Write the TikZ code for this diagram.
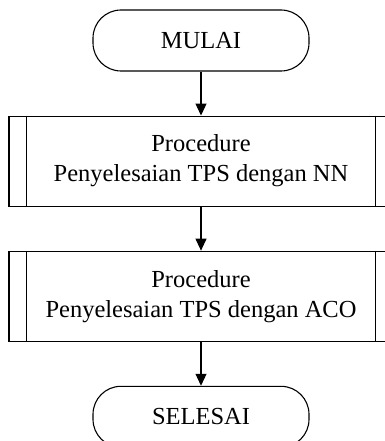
\documentclass[tikz,border=0pt]{standalone}
\usepackage{fontspec}
\setmainfont{Liberation Serif}
\usepackage{tikz}
\usetikzlibrary{arrows.meta, positioning}

\begin{document}
\begin{tikzpicture}[
    x=1pt, y=1pt,
    node distance=44pt,
    every node/.style={font=\fontsize{24.5}{30}\selectfont},
    terminal/.style={rectangle, draw, rounded corners=28pt, line width=1.1pt, minimum height=61pt, minimum width=216pt, align=center},
    procbox/.style={rectangle, draw, line width=1.1pt, minimum height=90pt, minimum width=384pt, align=center},
    arrow/.style={-{Triangle[length=12pt, width=11pt]}, line width=1.1pt}
]
\useasboundingbox (0,0) rectangle (384,-441);
\node[terminal] (mulai) at (201,-40.5) {MULAI};
\node[procbox, below=of mulai] (nn) {Procedure\\Penyelesaian TPS dengan NN};
\node[procbox, below=of nn] (aco) {Procedure\\Penyelesaian TPS dengan ACO};
\node[terminal, below=of aco] (selesai) {SELESAI};

% garis tepi dalam procedure
\foreach \b in {nn, aco} {
  \draw[line width=1.1pt] ([xshift=18pt]\b.north west) -- ([xshift=18pt]\b.south west);
  \draw[line width=1.1pt] ([xshift=-18pt]\b.north east) -- ([xshift=-18pt]\b.south east);
}

\draw[arrow] (mulai) -- (nn);
\draw[arrow] (nn) -- (aco);
\draw[arrow] (aco) -- (selesai);
\end{tikzpicture}
\end{document}
